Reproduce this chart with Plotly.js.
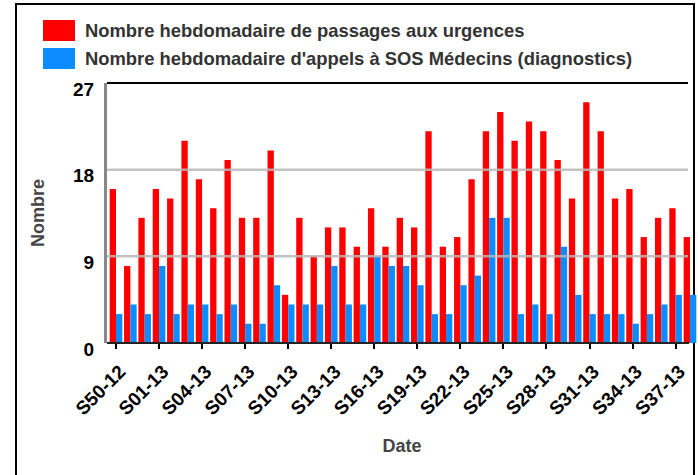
<!DOCTYPE html>
<html>
<head>
<meta charset="utf-8">
<script src="https://cdn.plot.ly/plotly-3.0.1.min.js"></script>
<style>html,body{margin:0;padding:0;background:#fff;}#chart{width:698px;height:475px;}</style>
</head>
<body>
<div id="chart"></div>
<script>
var weeks = ["S50-12","S51-12","S52-12","S01-13","S02-13","S03-13","S04-13","S05-13","S06-13","S07-13",
  "S08-13","S09-13","S10-13","S11-13","S12-13","S13-13","S14-13","S15-13","S16-13","S17-13",
  "S18-13","S19-13","S20-13","S21-13","S22-13","S23-13","S24-13","S25-13","S26-13","S27-13",
  "S28-13","S29-13","S30-13","S31-13","S32-13","S33-13","S34-13","S35-13","S36-13","S37-13","S38-13"];
var urgences = [16,8,13,16,15,21,17,14,19,13,13,20,5,13,9,12,12,10,14,10,13,12,22,10,11,17,22,24,21,23,22,19,15,25,22,15,16,11,13,14,11];
var sos = [3,4,3,8,3,4,4,3,4,2,2,6,4,4,4,8,4,4,9,8,8,6,3,3,6,7,13,13,3,4,3,10,5,3,3,3,2,3,4,5,5];
var seriesNames = ["Nombre hebdomadaire de passages aux urgences",
  "Nombre hebdomadaire d'appels à SOS Médecins (diagnostics)"];
var seriesColors = ["#ff0000", "#0c8cff"];
var yTicks = [0, 9, 18, 27];
var xTickLabels = weeks.filter(function(w, i){ return i % 3 === 0; });

var W = 698, H = 475, L = 107, R = 1, T = 83, B = 132;
var pw = W - L - R, ph = H - T - B;
function px(x){ return (x - L) / pw; }
function py(y){ return (H - B - y) / ph; }
var font = "Liberation Sans, Arial, sans-serif";
function bold(t){ return "<b>" + t + "</b>"; }

var traces = [
  {type:"bar", x:weeks, y:urgences, name:seriesNames[0], marker:{color:seriesColors[0]}, hoverinfo:"x+y"},
  {type:"bar", x:weeks, y:sos, name:seriesNames[1], marker:{color:seriesColors[1]}, hoverinfo:"x+y"}
];

var shapes = [];
shapes.push({type:"rect", xref:"paper", yref:"paper", x0:px(16), x1:px(694), y0:py(4), y1:py(520),
  line:{color:"#000", width:2}, fillcolor:"rgba(0,0,0,0)", layer:"below"});
yTicks.forEach(function(v){
  if (v > yTicks[0] && v < yTicks[yTicks.length-1]) {
    shapes.push({type:"line", xref:"paper", yref:"y", x0:0, x1:px(688), y0:v, y1:v,
      line:{color:"rgba(185,185,185,0.85)", width:2.5}, layer:"above"});
  }
});
// top border and bottom axis line, ending where the reference's frame ends
shapes.push({type:"line", xref:"paper", yref:"paper", x0:0, x1:px(688), y0:1, y1:1,
  line:{color:"#000", width:2}, layer:"above"});
shapes.push({type:"line", xref:"paper", yref:"paper", x0:0, x1:px(689), y0:0, y1:0,
  line:{color:"#222", width:2}, layer:"above"});
var annotations = [];
seriesNames.forEach(function(n, i){
  var top = 20 + i * 28;
  shapes.push({type:"rect", xref:"paper", yref:"paper", x0:px(43), x1:px(75), y0:py(top+21), y1:py(top),
    line:{width:0}, fillcolor:seriesColors[i]});
  annotations.push({xref:"paper", yref:"paper", x:px(83), y:py(top+10.5), xanchor:"left", yanchor:"middle",
    text:bold(n), showarrow:false, font:{family:font, size:18.4, color:"#333"}});
});

var layout = {
  width:W, height:H,
  margin:{l:L, r:R, t:T, b:B, pad:0},
  paper_bgcolor:"#fff", plot_bgcolor:"#fff",
  showlegend:false,
  barmode:"group", bargap:0.12, bargroupgap:0,
  font:{family:font, size:19, color:"#000"},
  xaxis:{
    type:"category", range:[-0.627, 40.49],
    tickmode:"array", tickvals:xTickLabels, ticktext:xTickLabels.map(bold),
    tickangle:-45, ticks:"outside", ticklen:5, tickwidth:2, tickcolor:"#000",
    showline:false,
    showgrid:false, zeroline:false,
    ticklabelshift:4, ticklabelstandoff:4,
    tickfont:{family:font, size:19, color:"#000"},
    title:{text:bold("Date"), font:{family:font, size:18, color:"#444"}, standoff:21}
  },
  yaxis:{
    range:[0,27], tickmode:"array", tickvals:yTicks, ticktext:yTicks.map(function(v){return bold(String(v));}),
    ticks:"", showline:true, linecolor:"#888", linewidth:3,
    showgrid:false, zeroline:false,
    ticklabelshift:6, ticklabelstandoff:6,
    tickfont:{family:font, size:19, color:"#000"},
    title:{text:bold("Nombre"), font:{family:font, size:18, color:"#444"}, standoff:24}
  },
  shapes:shapes,
  annotations:annotations
};
Plotly.newPlot("chart", traces, layout, {displayModeBar:false, staticPlot:true});
</script>
</body>
</html>
